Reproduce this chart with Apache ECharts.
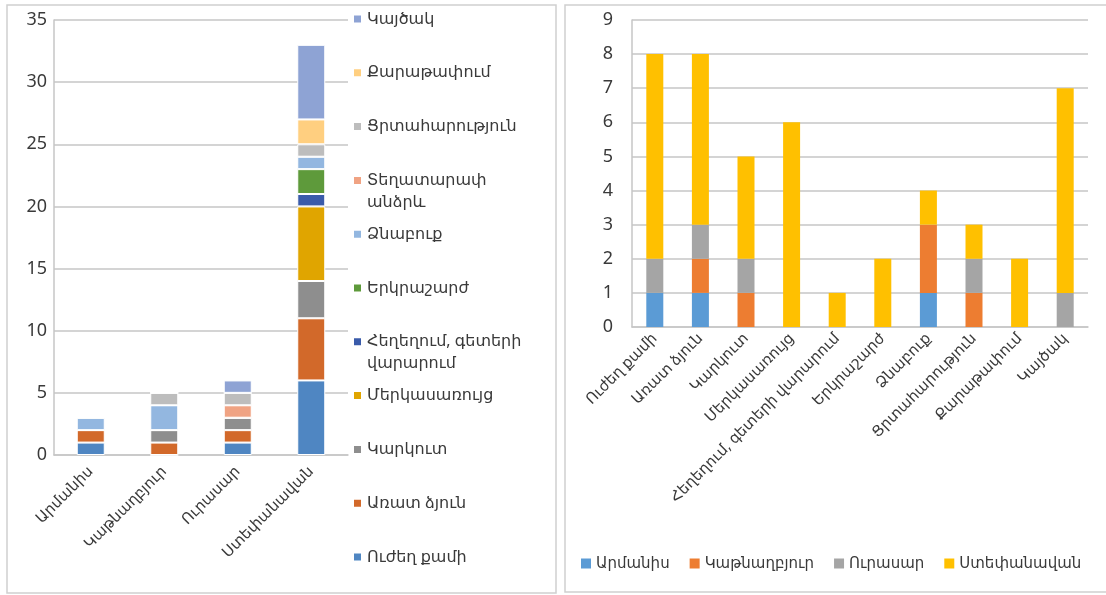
<!DOCTYPE html>
<html>
<head>
<meta charset="utf-8">
<script src="https://cdn.jsdelivr.net/npm/echarts@6/dist/echarts.min.js"></script>
<style>
html,body{margin:0;padding:0;background:#fff;}
#chart{width:1106px;height:595px;}
</style>
</head>
<body>
<div id="chart"></div>
<script>
// ---- Data ----
const stations = ['Արմանիս', 'Կաթնաղբյուր', 'Ուրասար', 'Ստեփանավան'];
const hazards = ['Ուժեղ քամի', 'Առատ ձյուն', 'Կարկուտ', 'Մերկասառույց', 'Հեղեղում, գետերի վարարում', 'Երկրաշարժ', 'Ձնաբուք', 'Տեղատարափ անձրև', 'Ցրտահարություն', 'Քարաթափում', 'Կայծակ'];

// Left chart: each hazard across the four stations
const strongWind = [1, 0, 1, 6];
const heavySnow = [1, 1, 1, 5];
const hail = [0, 1, 1, 3];
const glaze = [0, 0, 0, 6];
const flood = [0, 0, 0, 1];
const earthquake = [0, 0, 0, 2];
const blizzard = [1, 2, 0, 1];
const downpour = [0, 0, 1, 0];
const frost = [0, 1, 1, 1];
const rockfall = [0, 0, 0, 2];
const lightning = [0, 0, 1, 6];

// Right chart: categories and each station's values
const rightCategories = ['Ուժեղ քամի', 'Առատ ձյուն', 'Կարկուտ', 'Մերկասառույց', 'Հեղեղում, գետերի վարարում', 'Երկրաշարժ', 'Ձնաբուք', 'Ցրտահարություն', 'Քարաթափում', 'Կայծակ'];
const armanis = [1, 1, 0, 0, 0, 0, 1, 0, 0, 0];
const katnaghbyur = [0, 1, 1, 0, 0, 0, 2, 1, 0, 0];
const urasar = [1, 1, 1, 0, 0, 0, 0, 1, 0, 1];
const stepanavan = [6, 5, 3, 6, 1, 2, 1, 1, 2, 6];

const leftTicks = { min: 0, max: 35, interval: 5 };
const rightTicks = { min: 0, max: 9, interval: 1 };

// ---- Styles ----
const leftValues = [strongWind, heavySnow, hail, glaze, flood, earthquake, blizzard, downpour, frost, rockfall, lightning];
const leftColors = ['#4F86C2', '#D2692A', '#8E8E8E', '#E0A500', '#3A5BAA', '#5E9A3B', '#93B7E0', '#F0A383', '#BDBDBD', '#FFCF80', '#8EA3D4'];
const rightValues = [armanis, katnaghbyur, urasar, stepanavan];
const rightColors = ['#5B9BD5', '#ED7D31', '#A5A5A5', '#FFC000'];
const FONT = 'Noto Sans, DejaVu Sans, sans-serif';
const TXT = '#3a3a3a';
const GRIDC = '#C6C6C6';
// two-line legend labels: a leading blank line keeps the marker beside the first line
const legendWrap = {
  'Տեղատարափ անձրև': ' \nՏեղատարափ\nանձրև',
  'Հեղեղում, գետերի վարարում': ' \nՀեղեղում, գետերի\nվարարում'
};

const chart = echarts.init(document.getElementById('chart'));

const series = [];
hazards.forEach((h, i) => {
  series.push({
    name: h, type: 'bar', stack: 'left', xAxisIndex: 0, yAxisIndex: 0,
    data: leftValues[i], barWidth: 28,
    itemStyle: { color: leftColors[i], borderColor: '#fff', borderWidth: 1 }
  });
});
stations.forEach((s, i) => {
  series.push({
    name: s, type: 'bar', stack: 'right', xAxisIndex: 1, yAxisIndex: 1,
    data: rightValues[i], barWidth: 17,
    itemStyle: { color: rightColors[i] }
  });
});

// Left legends: one component per item, listed top (last series) to bottom
const LH = 22;
const legends = [];
const reversed = hazards.slice().reverse();
reversed.forEach((h, i) => {
  const c = 19 + i * 53.8;
  const two = !!legendWrap[h];
  legends.push({
    show: true, orient: 'vertical', left: 352,
    top: two ? c - 1.5 * LH : c - 0.5 * LH,
    padding: 0, itemWidth: 9, itemHeight: 9, itemGap: 0,
    icon: 'rect', data: [h], selectedMode: false,
    formatter: n => legendWrap[n] || n,
    textStyle: { fontSize: 16, fontFamily: FONT, color: TXT, lineHeight: LH }
  });
});
legends.push({
  show: true, orient: 'horizontal', left: 581, top: 556, padding: 0,
  itemWidth: 10, itemHeight: 10, itemGap: 20, icon: 'rect', data: stations,
  selectedMode: false,
  textStyle: { fontSize: 15, fontFamily: FONT, color: TXT }
});

const option = {
  animation: false,
  backgroundColor: '#fff',
  textStyle: { fontFamily: FONT },
  graphic: [
    { type: 'rect', shape: { x: 7, y: 5, width: 549, height: 588 }, style: { fill: 'none', stroke: '#D0D0D0', lineWidth: 1.5 }, silent: true },
    { type: 'rect', shape: { x: 565, y: 5, width: 560, height: 587 }, style: { fill: 'none', stroke: '#D0D0D0', lineWidth: 1.5 }, silent: true }
  ],
  legend: legends,
  grid: [
    { left: 54, top: 20, width: 294, height: 435 },
    { left: 632, top: 20, width: 456, height: 307 }
  ],
  xAxis: [
    {
      type: 'category', gridIndex: 0, data: stations,
      axisLine: { lineStyle: { color: GRIDC, width: 1.5 } }, axisTick: { show: false },
      axisLabel: { rotate: 45, fontSize: 15, color: TXT, fontFamily: FONT, margin: 14, interval: 0 }
    },
    {
      type: 'category', gridIndex: 1, data: rightCategories,
      axisLine: { lineStyle: { color: GRIDC, width: 1.5 } }, axisTick: { show: false },
      axisLabel: { rotate: 45, fontSize: 15, color: TXT, fontFamily: FONT, margin: 9, interval: 0 }
    }
  ],
  yAxis: [
    {
      type: 'value', gridIndex: 0, min: leftTicks.min, max: leftTicks.max, interval: leftTicks.interval,
      axisLine: { show: true, lineStyle: { color: GRIDC, width: 1.5 } }, axisTick: { show: false },
      splitLine: { lineStyle: { color: GRIDC, width: 1.5 } },
      axisLabel: { fontSize: 18, color: TXT, fontFamily: FONT, margin: 7 }
    },
    {
      type: 'value', gridIndex: 1, min: rightTicks.min, max: rightTicks.max, interval: rightTicks.interval,
      axisLine: { show: true, lineStyle: { color: GRIDC, width: 1.5 } }, axisTick: { show: false },
      splitLine: { lineStyle: { color: GRIDC, width: 1.5 } },
      axisLabel: { fontSize: 18, color: TXT, fontFamily: FONT, margin: 19 }
    }
  ],
  series: series
};
chart.setOption(option);
</script>
</body>
</html>
